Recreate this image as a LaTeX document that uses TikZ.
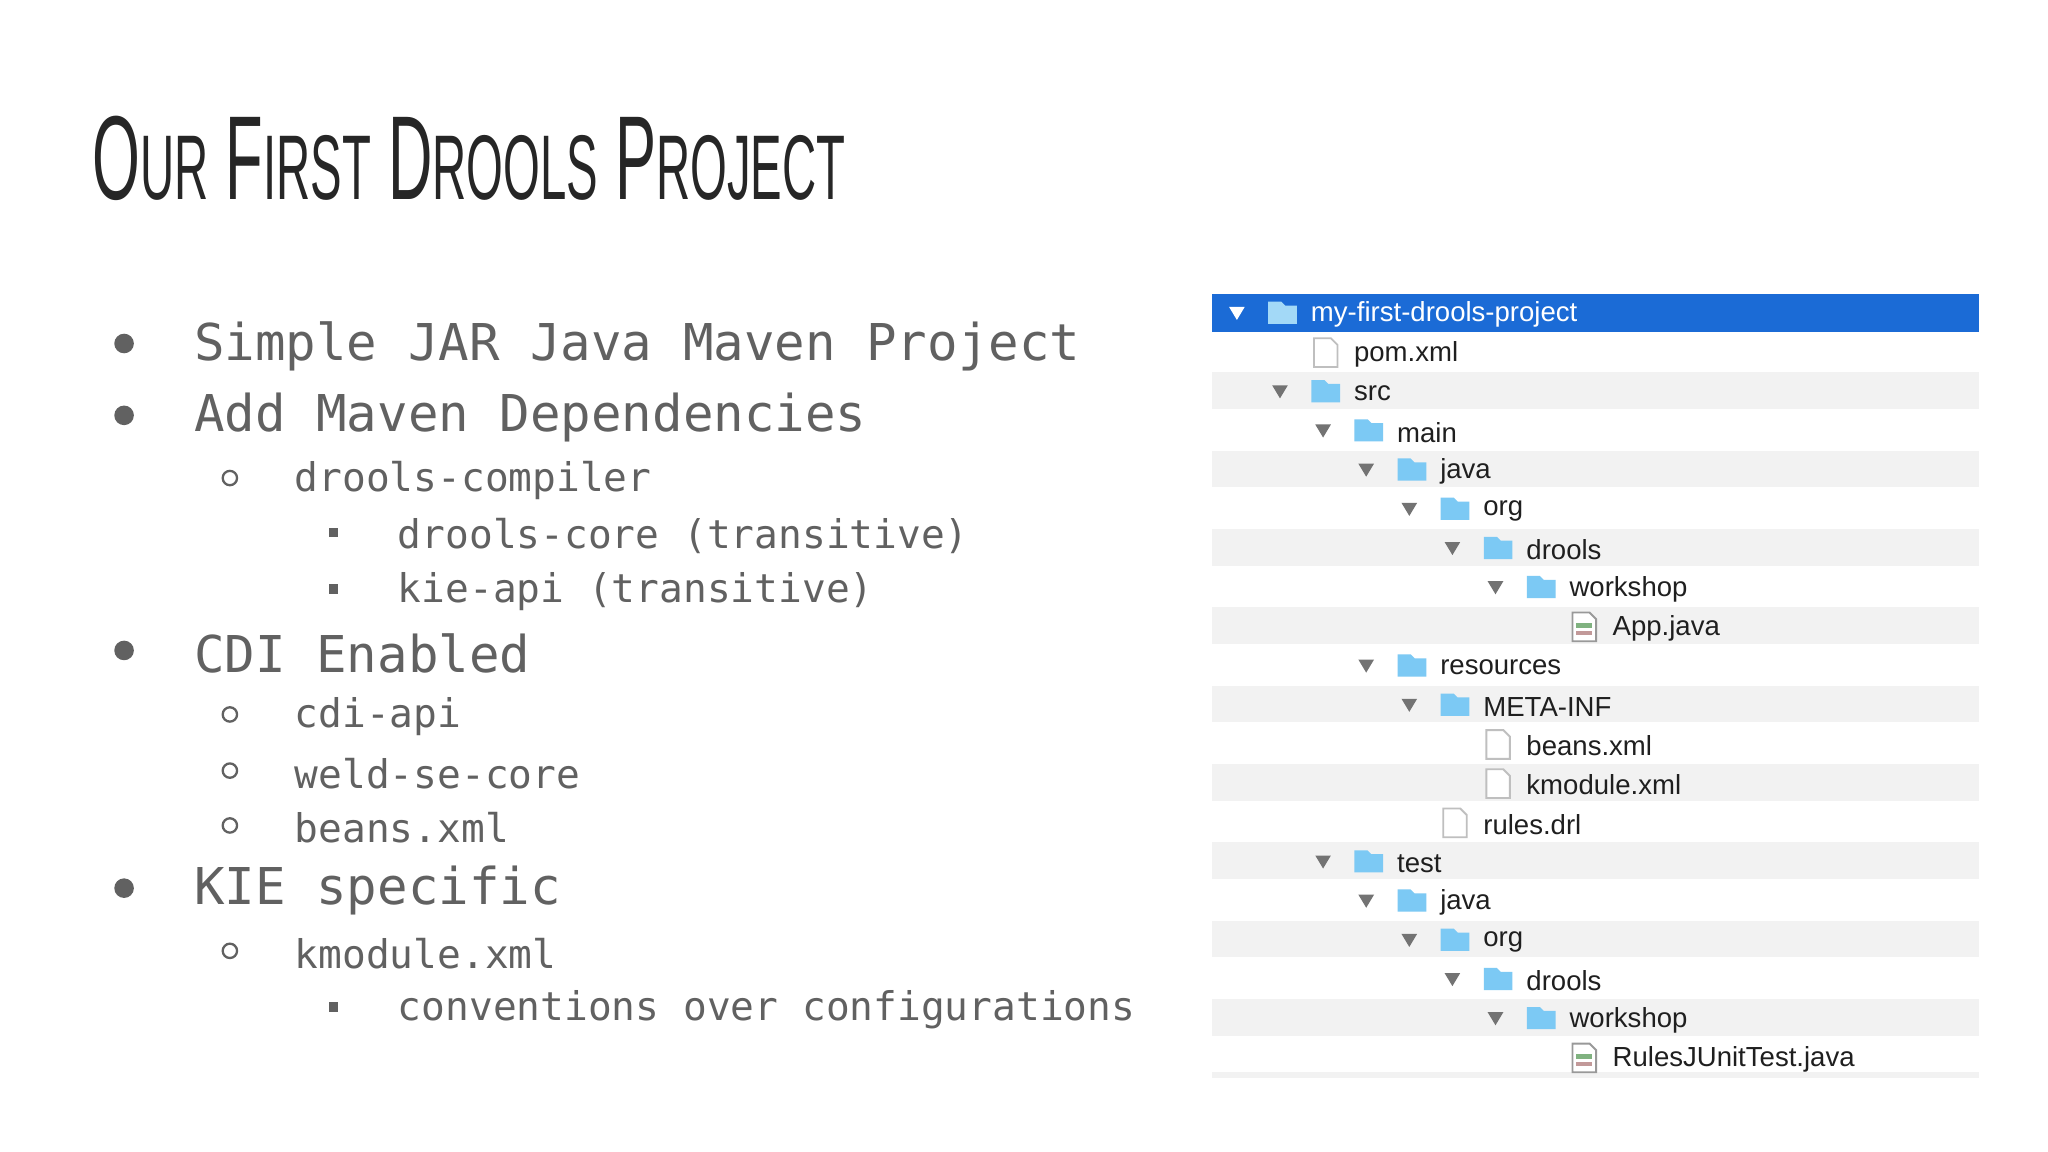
\documentclass[tikz,border=0pt]{standalone}
\usepackage{fontspec}
\setmainfont{Liberation Sans}
\newfontfamily\monof{DejaVu Sans Mono}[Scale=1]
\newfontfamily\titlef{Liberation Sans}
\definecolor{foldc}{HTML}{7CC9F4}
\definecolor{selc}{HTML}{1B6BD6}
\begin{document}
\begin{tikzpicture}[x=0.01cm,y=-0.01cm,
  bodytxt/.style={anchor=west,inner sep=0,text=black!62,font=\monof},
  lvA/.style={bodytxt,font=\monof\fontsize{11.05}{13}\selectfont},
  lvB/.style={bodytxt,font=\monof\fontsize{8.6}{10}\selectfont},
  treetxt/.style={anchor=west,inner sep=0,font=\fontsize{6}{7}\selectfont,text=black!88},
  tri/.style={fill=black!55,draw=none},
  folder/.style={fill=foldc,draw=none},
]
\useasboundingbox (0,0) rectangle (1568,882);
\fill[white] (0,0) rectangle (1568,882);
% title
\node[anchor=base west,inner sep=0,text=black!85] (title) at (70,153)
 {\scalebox{0.515}[1]{\titlef\fontsize{26}{30}\selectfont
 O{\fontsize{20}{24}\selectfont UR} F{\fontsize{20}{24}\selectfont IRST} D{\fontsize{20}{24}\selectfont ROOLS} P{\fontsize{20}{24}\selectfont ROJECT}}};
% bullets
\def\bA#1#2{\fill[black!62] (95,#1) circle (7.5); \node[lvA] at (148,#1+2) {#2};}
\def\bB#1#2{\draw[black!62,line width=0.5pt] (176,#1) circle (5.5); \node[lvB] at (225,#1+2) {#2};}
\def\bC#1#2{\fill[black!62] (252,#1-3.5) rectangle +(7,7); \node[lvB] at (304,#1+2) {#2};}
\bA{263}{Simple JAR Java Maven Project}
\bA{318}{Add Maven Dependencies}
\bB{366}{drools-compiler}
\bC{408}{drools-core (transitive)}
\bC{451}{kie-api (transitive)}
\bA{498}{CDI Enabled}
\bB{547}{cdi-api}
\bB{590}{weld-se-core}
\bB{632}{beans.xml}
\bA{680}{KIE specific}
\bB{728}{kmodule.xml}
\bC{771}{conventions over configurations}
% tree stripes
\foreach \r in {2,4,...,18} {\fill[black!5] (928,225+30*\r) rectangle (1515,253+30*\r);}
\fill[black!5] (928,821) rectangle (1515,825);
\fill[selc] (928,225) rectangle (1515,254);
\def\fold#1#2#3{%
  \pgfmathsetmacro\yy{240+30*#1}\pgfmathsetmacro\xx{947+33*#2}
  \fill[tri] (\xx-6,\yy-5) -- (\xx+6,\yy-5) -- (\xx,\yy+5) -- cycle;
  \fill[folder] (\xx+24,\yy-9) -- (\xx+34,\yy-9) -- (\xx+37,\yy-6) -- (\xx+46,\yy-6) -- (\xx+46,\yy+8) -- (\xx+24,\yy+8) -- cycle;
  \node[treetxt] at (\xx+56,\yy+1) {#3};}
\def\fil#1#2#3{%
  \pgfmathsetmacro\yy{240+30*#1}\pgfmathsetmacro\xx{947+33*#2}
  \draw[black!25,fill=white,line width=0.4pt] (\xx+26,\yy-11) -- (\xx+39,\yy-11) -- (\xx+44,\yy-6) -- (\xx+44,\yy+11) -- (\xx+26,\yy+11) -- cycle;
  \node[treetxt] at (\xx+56,\yy+1) {#3};}
\def\jav#1#2#3{%
  \pgfmathsetmacro\yy{240+30*#1}\pgfmathsetmacro\xx{947+33*#2}
  \draw[black!40,fill=white,line width=0.4pt] (\xx+26,\yy-11) -- (\xx+39,\yy-11) -- (\xx+44,\yy-6) -- (\xx+44,\yy+11) -- (\xx+26,\yy+11) -- cycle;
  \fill[green!40!black!50] (\xx+29,\yy-3) rectangle (\xx+41,\yy+1);
  \fill[red!40!black!40] (\xx+29,\yy+3) rectangle (\xx+41,\yy+6);
  \node[treetxt] at (\xx+56,\yy+1) {#3};}
\fill[white] (941,235) -- (953,235) -- (947,245) -- cycle;
\fill[foldc!70!white] (971,231) -- (981,231) -- (984,234) -- (993,234) -- (993,248) -- (971,248) -- cycle;
\node[treetxt,text=white] (root) at (1003,241) {my-first-drools-project};
\fil{1}{1}{pom.xml}
\fold{2}{1}{src}
\fold{3}{2}{main}
\fold{4}{3}{java}
\fold{5}{4}{org}
\fold{6}{5}{drools}
\fold{7}{6}{workshop}
\jav{8}{7}{App.java}
\fold{9}{3}{resources}
\fold{10}{4}{META-INF}
\fil{11}{5}{beans.xml}
\fil{12}{5}{kmodule.xml}
\fil{13}{4}{rules.drl}
\fold{14}{2}{test}
\fold{15}{3}{java}
\fold{16}{4}{org}
\fold{17}{5}{drools}
\fold{18}{6}{workshop}
\jav{19}{7}{RulesJUnitTest.java}
\end{tikzpicture}
\end{document}
